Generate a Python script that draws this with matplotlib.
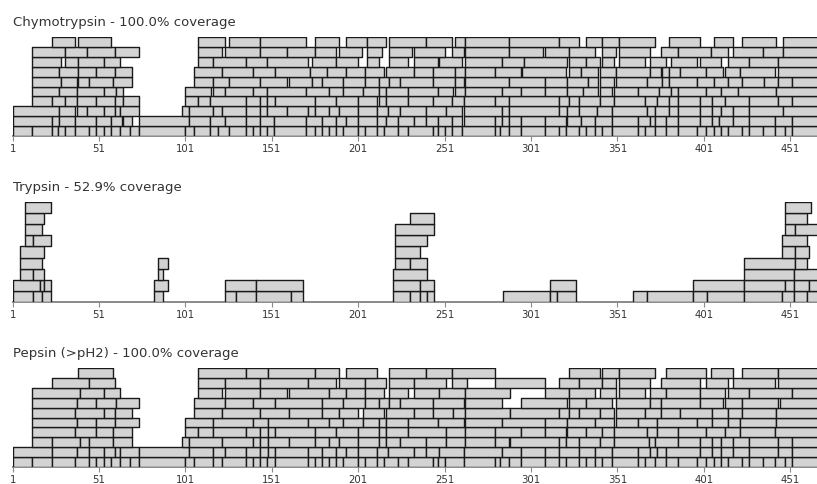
import matplotlib
matplotlib.use("Agg")
import matplotlib.pyplot as plt

# Peptide coverage maps: each row is one stacking level (bottom level first),
# each peptide is (first residue, last residue).
chymotrypsin_rows = [
    [(1, 11), (12, 23), (24, 26), (27, 30), (31, 36), (37, 44), (45, 48), (49, 53), (54, 57), (58, 62),
     (63, 68), (69, 73), (74, 100), (101, 105), (106, 114), (115, 119), (120, 125), (126, 135), (136, 139),
     (140, 143), (144, 147), (148, 151), (152, 170), (171, 175), (176, 179), (180, 183), (184, 187),
     (188, 191), (192, 200), (201, 204), (205, 211), (212, 215), (216, 223), (224, 229), (230, 243),
     (244, 246), (247, 250), (251, 254), (255, 260), (261, 279), (280, 282), (283, 287), (288, 294),
     (295, 308), (309, 316), (317, 320), (321, 328), (329, 332), (333, 337), (338, 341), (342, 347),
     (348, 362), (363, 366), (367, 372), (373, 378), (379, 385), (386, 396), (397, 401), (402, 406),
     (407, 410), (411, 414), (415, 422), (423, 426), (427, 434), (435, 441), (442, 447), (448, 451),
     (452, 470)],
    [(1, 23), (24, 27), (28, 36), (37, 48), (49, 57), (58, 63), (65, 69), (74, 102), (103, 114), (115, 123),
     (124, 135), (136, 143), (144, 151), (152, 170), (171, 179), (180, 187), (188, 193), (194, 200),
     (201, 211), (212, 216), (217, 223), (224, 232), (233, 239), (240, 246), (247, 254), (255, 260),
     (262, 279), (280, 283), (284, 287), (288, 294), (295, 308), (309, 320), (322, 329), (330, 337),
     (338, 347), (348, 362), (363, 369), (370, 372), (373, 378), (379, 385), (386, 398), (399, 405),
     (406, 409), (410, 417), (418, 426), (427, 441), (442, 451), (452, 470)],
    [(1, 27), (28, 36), (38, 43), (44, 53), (54, 59), (60, 62), (63, 73), (99, 102), (103, 116), (117, 121),
     (122, 135), (136, 143), (144, 147), (148, 159), (160, 171), (172, 175), (176, 183), (184, 189),
     (190, 200), (201, 211), (212, 217), (218, 224), (225, 239), (240, 251), (252, 260), (262, 283),
     (284, 287), (288, 316), (317, 321), (322, 328), (329, 338), (339, 347), (348, 367), (368, 372),
     (373, 380), (381, 385), (386, 398), (399, 405), (406, 410), (411, 417), (418, 426), (427, 446),
     (447, 470)],
    [(12, 23), (24, 30), (31, 37), (38, 48), (49, 59), (60, 64), (65, 73), (101, 107), (108, 114), (115, 135),
     (136, 143), (144, 147), (148, 152), (153, 175), (176, 187), (188, 200), (201, 211), (213, 216),
     (217, 229), (230, 243), (244, 254), (255, 261), (262, 279), (280, 287), (288, 316), (317, 322),
     (323, 328), (329, 340), (341, 348), (349, 366), (367, 373), (374, 380), (381, 385), (386, 398),
     (399, 405), (406, 412), (413, 426), (427, 443), (444, 451), (452, 470)],
    [(12, 27), (28, 37), (38, 53), (54, 60), (61, 64), (101, 115), (117, 123), (124, 139), (140, 147),
     (148, 170), (171, 183), (184, 191), (192, 203), (204, 212), (213, 216), (217, 229), (230, 246),
     (247, 255), (257, 262), (263, 283), (284, 294), (295, 308), (309, 321), (322, 330), (331, 339),
     (341, 347), (349, 362), (363, 374), (375, 381), (382, 385), (386, 401), (402, 410), (411, 420),
     (421, 442), (443, 470)],
    [(12, 28), (29, 37), (39, 44), (45, 58), (59, 69), (106, 116), (117, 125), (126, 143), (144, 159),
     (161, 173), (174, 179), (180, 191), (192, 204), (205, 212), (213, 218), (219, 224), (225, 243),
     (244, 256), (257, 261), (263, 287), (288, 308), (309, 321), (322, 333), (334, 339), (341, 348),
     (350, 367), (368, 376), (377, 380), (381, 396), (397, 406), (407, 414), (415, 422), (423, 435),
     (436, 443), (444, 451), (452, 470)],
    [(12, 27), (28, 38), (39, 48), (49, 59), (60, 69), (106, 121), (122, 139), (140, 152), (153, 172),
     (173, 182), (183, 193), (194, 204), (205, 215), (217, 232), (233, 243), (244, 256), (257, 262),
     (263, 279), (280, 294), (296, 320), (323, 329), (330, 339), (341, 349), (350, 369), (370, 375),
     (377, 380), (381, 386), (387, 401), (402, 411), (413, 421), (422, 441), (444, 470)],
    [(12, 28), (31, 38), (39, 53), (54, 62), (108, 116), (117, 135), (136, 147), (148, 171), (174, 187),
     (188, 200), (206, 212), (219, 229), (233, 246), (248, 260), (263, 283), (284, 296), (297, 321),
     (323, 332), (333, 340), (342, 348), (352, 366), (370, 378), (382, 396), (399, 410), (415, 426),
     (427, 443), (444, 470)],
    [(12, 30), (31, 43), (44, 59), (60, 73), (108, 121), (124, 143), (144, 159), (160, 175), (176, 187),
     (190, 202), (206, 214), (219, 231), (233, 250), (255, 261), (263, 287), (288, 307), (309, 322),
     (323, 337), (342, 349), (352, 369), (376, 385), (386, 404), (405, 414), (418, 434), (435, 446),
     (447, 470)],
    [(24, 36), (39, 57), (108, 123), (126, 143), (144, 170), (176, 189), (194, 205), (206, 216), (219, 239),
     (240, 254), (257, 262), (263, 287), (288, 316), (317, 328), (333, 341), (342, 351), (352, 372),
     (381, 398), (407, 417), (423, 442), (447, 470)],
]

trypsin_rows = [
    [(1, 12), (13, 17), (18, 22), (83, 87), (124, 129), (130, 141), (142, 161), (162, 168), (221, 230),
     (231, 236), (237, 240), (241, 244), (285, 311), (312, 315), (316, 326), (360, 367), (368, 394),
     (395, 402), (403, 423), (424, 445), (446, 452), (453, 460), (461, 470)],
    [(1, 16), (17, 18), (19, 22), (83, 90), (124, 141), (142, 168), (221, 236), (237, 244), (312, 326),
     (395, 423), (424, 447), (448, 452), (453, 461), (462, 470)],
    [(5, 12), (13, 18), (85, 87), (221, 240), (424, 452), (453, 470)],
    [(5, 17), (85, 90), (222, 230), (231, 240), (424, 453), (454, 460)],
    [(5, 18), (222, 236), (446, 453), (454, 461)],
    [(8, 12), (13, 22), (222, 240), (446, 460)],
    [(8, 17), (222, 244), (448, 453), (454, 470)],
    [(8, 18), (231, 244), (448, 460)],
    [(8, 22), (448, 462)],
]

pepsin_rows = [
    [(1, 11), (12, 23), (24, 36), (37, 44), (45, 48), (49, 53), (54, 57), (58, 62), (63, 68), (69, 73),
     (74, 100), (101, 105), (106, 116), (117, 121), (122, 135), (136, 139), (140, 143), (144, 147),
     (148, 152), (153, 171), (172, 175), (176, 179), (180, 183), (184, 187), (188, 191), (192, 200),
     (201, 204), (205, 211), (212, 215), (216, 223), (224, 229), (230, 243), (244, 246), (247, 250),
     (251, 261), (262, 279), (280, 282), (283, 287), (288, 294), (295, 308), (309, 316), (317, 320),
     (321, 328), (329, 332), (333, 337), (338, 341), (342, 347), (348, 362), (363, 366), (367, 372),
     (373, 378), (379, 385), (386, 396), (397, 401), (402, 406), (407, 410), (411, 414), (415, 422),
     (423, 426), (427, 434), (435, 441), (442, 447), (448, 451), (452, 470)],
    [(1, 23), (24, 37), (38, 44), (45, 53), (54, 59), (60, 62), (63, 73), (74, 102), (103, 116), (117, 123),
     (124, 135), (136, 143), (144, 148), (149, 152), (153, 171), (172, 179), (180, 187), (188, 193),
     (194, 200), (201, 211), (212, 217), (218, 232), (233, 239), (240, 247), (248, 261), (262, 283),
     (284, 294), (295, 308), (309, 316), (317, 328), (329, 337), (338, 347), (348, 362), (363, 369),
     (370, 373), (374, 378), (379, 398), (399, 405), (406, 410), (411, 417), (418, 426), (427, 443),
     (444, 451), (452, 470)],
    [(12, 23), (24, 39), (40, 44), (45, 58), (59, 69), (99, 102), (103, 121), (122, 139), (140, 143),
     (144, 148), (149, 160), (161, 175), (176, 183), (184, 189), (190, 200), (201, 212), (213, 216),
     (217, 224), (225, 239), (240, 251), (252, 262), (263, 279), (280, 287), (289, 316), (317, 320),
     (321, 328), (329, 340), (341, 348), (349, 368), (369, 372), (373, 385), (386, 398), (399, 405),
     (406, 410), (411, 417), (418, 426), (427, 443), (444, 451), (452, 470)],
    [(12, 36), (37, 48), (49, 58), (59, 69), (101, 107), (108, 116), (117, 135), (136, 143), (144, 148),
     (149, 152), (153, 175), (176, 187), (188, 200), (201, 212), (213, 216), (217, 229), (230, 251),
     (252, 262), (263, 279), (280, 294), (295, 308), (309, 320), (322, 332), (333, 341), (342, 348),
     (349, 367), (368, 373), (374, 385), (386, 401), (402, 412), (413, 421), (422, 441), (442, 470)],
    [(12, 37), (38, 48), (49, 59), (60, 73), (101, 116), (117, 139), (140, 148), (149, 171), (172, 183),
     (184, 191), (192, 203), (204, 212), (213, 216), (217, 229), (230, 246), (247, 261), (263, 283),
     (284, 308), (309, 321), (322, 337), (338, 348), (350, 362), (363, 373), (374, 396), (397, 405),
     (406, 414), (415, 421), (422, 442), (443, 470)],
    [(12, 36), (37, 53), (54, 59), (60, 69), (106, 121), (122, 143), (144, 160), (161, 179), (180, 189),
     (190, 200), (204, 215), (217, 232), (233, 243), (244, 255), (256, 262), (263, 288), (289, 316),
     (317, 322), (323, 328), (329, 340), (341, 348), (350, 366), (367, 375), (376, 386), (387, 405),
     (406, 414), (415, 422), (423, 442), (443, 470)],
    [(12, 37), (38, 48), (49, 60), (61, 73), (106, 123), (124, 139), (140, 152), (153, 179), (180, 191),
     (192, 204), (205, 212), (213, 218), (219, 224), (225, 243), (244, 261), (263, 283), (295, 321),
     (323, 332), (333, 347), (350, 369), (370, 375), (376, 398), (399, 411), (413, 422), (423, 443),
     (445, 470)],
    [(12, 39), (40, 53), (54, 62), (108, 121), (124, 143), (144, 159), (161, 183), (184, 193), (194, 204),
     (205, 215), (219, 229), (233, 247), (248, 262), (263, 288), (309, 322), (323, 337), (341, 349),
     (352, 366), (370, 378), (379, 398), (399, 412), (415, 426), (427, 451), (452, 470)],
    [(24, 44), (45, 59), (108, 123), (124, 143), (144, 171), (172, 187), (190, 204), (205, 216), (219, 232),
     (233, 251), (255, 263), (280, 308), (317, 328), (329, 341), (342, 349), (352, 369), (376, 398),
     (402, 414), (418, 441), (444, 470)],
    [(39, 58), (108, 135), (136, 148), (149, 175), (176, 189), (194, 211), (219, 239), (240, 254),
     (255, 279), (323, 340), (342, 351), (352, 372), (379, 401), (405, 417), (423, 443), (444, 470)],
]

panel_titles = [
    "Chymotrypsin - 100.0% coverage",
    "Trypsin - 52.9% coverage",
    "Pepsin (>pH2) - 100.0% coverage",
]
panel_rows = [chymotrypsin_rows, trypsin_rows, pepsin_rows]

tick_positions = [1, 51, 101, 151, 201, 251, 301, 351, 401, 451]
tick_labels = ["1", "51", "101", "151", "201", "251", "301", "351", "401", "451"]

W, H = 817, 485
fig = plt.figure(figsize=(W / 100, H / 100), dpi=100)

x_left_px = 12.7
x_lo, x_hi = 1, 466.5
# axes vertical extents in pixels from the top: (top, bottom)
panel_px = [(38, 137), (203, 303), (369, 468)]
title_baseline_px = [26, 191, 357]

for rows, title, (top, bottom), tb in zip(panel_rows, panel_titles, panel_px, title_baseline_px):
    ax = fig.add_axes([x_left_px / W, 1 - bottom / H, (W - x_left_px) / W, (bottom - top) / H])
    for level, peptides in enumerate(rows):
        spans = [(s, e - s + 1) for s, e in peptides]
        ax.broken_barh(spans, (level, 1), facecolors="#d3d3d3",
                       edgecolors="#1a1a1a", linewidths=1.0)
    ax.set_xlim(x_lo, x_hi)
    ax.set_ylim(0, len(rows))
    ax.set_yticks([])
    for side in ("top", "left", "right"):
        ax.spines[side].set_visible(False)
    ax.spines["bottom"].set_color("#8a8a8a")
    ax.spines["bottom"].set_linewidth(1.4)
    ax.spines["bottom"].set_zorder(0.5)
    ax.set_xticks(tick_positions)
    ax.set_xticklabels(tick_labels)
    ax.tick_params(axis="x", length=3.5, width=0.8, color="#8a8a8a", pad=1.5,
                   labelsize=7.3, labelcolor="#333333")
    fig.text(x_left_px / W, 1 - tb / H, title, ha="left", va="baseline",
             fontsize=9.5, color="#333333")

fig.savefig("out.png", dpi=100)
